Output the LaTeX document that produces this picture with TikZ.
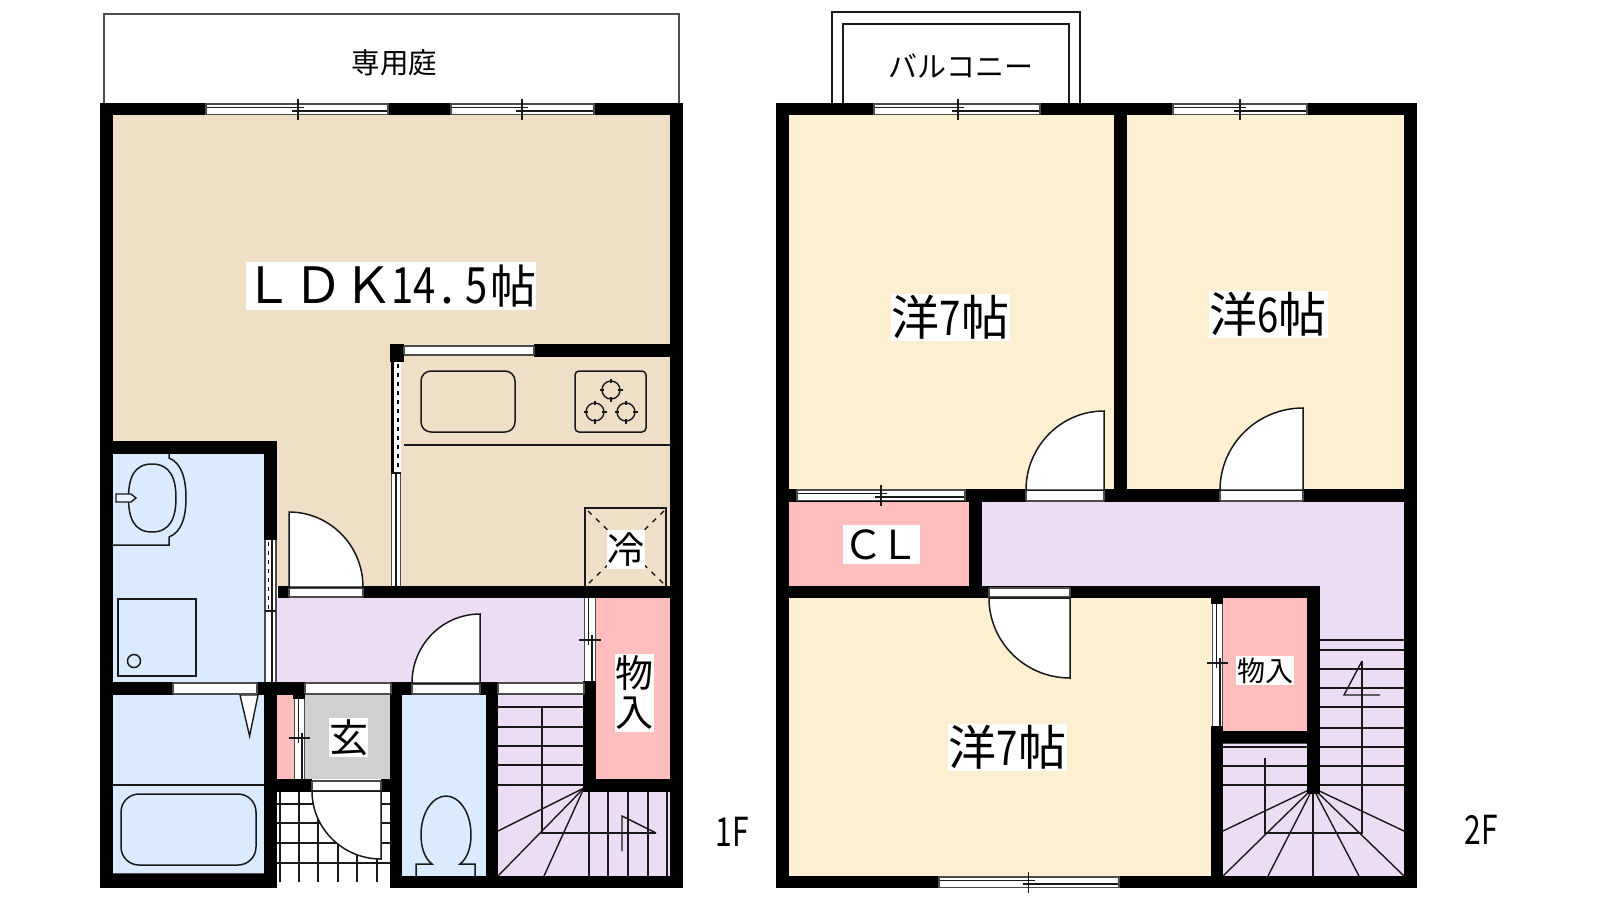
\documentclass[tikz,border=0pt]{standalone}
\usepackage{fontspec}
\usepackage{graphicx}
\usetikzlibrary{calc}
\setmainfont{Noto Sans CJK JP}
\definecolor{ldkc}{HTML}{EEDFC6}
\definecolor{bluec}{HTML}{DAEBFF}
\definecolor{pinkc}{HTML}{FFBEBE}
\definecolor{lavc}{HTML}{ECDDF5}
\definecolor{creamc}{HTML}{FDF0D1}
\definecolor{greyc}{HTML}{D0D0D0}
\tikzset{
  wallfill/.style={fill=black},
  thinl/.style={draw=black!90,line width=1.4pt},
  roomline/.style={draw=black!90,line width=1.5pt},
  frameg/.style={draw=black!70,line width=1.2pt},
  lab/.style={fill=white,inner sep=0pt,anchor=center,text=black},
}
\newcommand\fz[1]{\fontsize{#1}{#1}\selectfont}
\newcommand\nar[2][.8]{\scalebox{#1}[1]{#2}}
% wall rectangle x1 x2 y1 y2
\newcommand\wl[4]{\fill[wallfill] (#1,#3) rectangle (#2,#4);}
\newcommand\roomf[5]{\fill[#1] (#2,#4) rectangle (#3,#5);}
% horizontal sliding window x1 x2 y1 y2 tick
\newcommand\hwin[5]{%
  \fill[white] (#1,#3) rectangle (#2,#4);
  \draw[frameg] (#1,#3+1) -- (#2,#3+1);
  \draw[frameg] (#1,#4-.5) -- (#2,#4-.5);
  \draw[thinl] (#1,#3+4.2) -- (#5+6,#3+4.2);
  \draw[thinl] (#5-6,#3+7.8) -- (#2,#3+7.8);
  \draw[thinl] (#5,#3-4) -- (#5,#4+5);
  \draw[frameg] (#1,#3) -- (#1,#4) (#2,#3) -- (#2,#4);
}
% vertical sliding window x1 x2 y1 y2 tick
\newcommand\vwin[5]{%
  \fill[white] (#1,#3) rectangle (#2,#4);
  \draw[frameg] (#1+.5,#3) -- (#1+.5,#4);
  \draw[frameg] (#2-.5,#3) -- (#2-.5,#4);
  \draw[thinl] (#1+4.2,#3) -- (#1+4.2,#5+5);
  \draw[thinl] (#1+7.8,#5-5) -- (#1+7.8,#4);
  \draw[thinl] (#1-5,#5) -- (#2+5,#5);
}
% plain window
\newcommand\phwin[4]{\fill[white] (#1,#3) rectangle (#2,#4);
  \draw[frameg] (#1,#3+1) -- (#2,#3+1) (#1,#4-1) -- (#2,#4-1) (#1,#3+1) -- (#1,#4-1) (#2,#3+1) -- (#2,#4-1);}
% door sector: centre, a, b
\newcommand\sector[6]{%
  \draw[roomline,fill=white] (#1,#2) -- (#3,#4) .. controls ($(#3,#4)+0.5523*(#5,#6)-0.5523*(#1,#2)$) and ($(#5,#6)+0.5523*(#3,#4)-0.5523*(#1,#2)$) .. (#5,#6) -- cycle;}
\newcommand\burner[2]{%
  \draw[thinl] (#1,#2) circle (9);
  \draw[thinl] (#1-11.5,#2) -- (#1-7,#2) (#1+7,#2) -- (#1+11.5,#2) (#1,#2-11.5) -- (#1,#2-7) (#1,#2+7) -- (#1,#2+11.5);}
\begin{document}
\begin{tikzpicture}[x=1pt,y=-1pt]
\useasboundingbox (0,0) rectangle (1600,900);
\fill[white] (0,0) rectangle (1600,900);
%% ---------- 1F ----------
\draw[frameg] (104,103) -- (104,14) -- (679,14) -- (679,103);
\roomf{ldkc}{113}{670}{115}{586}
\roomf{bluec}{113}{264}{454}{682}
\roomf{bluec}{113}{264}{695}{874}
\roomf{lavc}{277}{584}{598}{682}
\roomf{pinkc}{596}{670}{598}{779}
\roomf{pinkc}{277}{294}{695}{779}
\roomf{greyc}{305}{390}{695}{779}
\roomf{bluec}{402}{486}{695}{876}
\roomf{lavc}{498}{583}{695}{876}
\roomf{lavc}{583}{670}{792}{876}
% washbasin
\draw[roomline] (169,454) -- (169,458) .. controls (182,463) and (186,480) .. (186,498) .. controls (186,516) and (182,532) .. (169,537) -- (169,545) -- (113,545);
\draw[roomline] (152,464) .. controls (170,464) and (176,478) .. (176,498) .. controls (176,518) and (170,532) .. (152,532) .. controls (134,532) and (128.5,518) .. (128.5,498) .. controls (128.5,478) and (134,464) .. (152,464);
\draw[thinl,fill=white!50!bluec] (116,494) -- (131,494) -- (136,498) -- (131,502) -- (116,502) -- cycle;
% shower
\draw[roomline] (118,599) rectangle (196,676);
\draw[roomline] (134,661) circle (6.5);
% bath
\draw[thinl] (113,785) -- (264,785);
\draw[frameg] (113,874) -- (264,874);
\draw[roomline,rounded corners=18pt] (121,794) rectangle (256,865);
\draw[thinl,fill=white] (240,695) -- (258,695) -- (249.6,736) -- cycle;
% toilet
\draw[roomline] (416,876) -- (416,864) -- (432,864) .. controls (424,858) and (421,846) .. (421,835) .. controls (421,812) and (433,796) .. (446,796) .. controls (459,796) and (471,812) .. (471,835) .. controls (471,846) and (468,858) .. (460,864) -- (475,864) -- (475,876);
% kitchen
\draw[roomline,rounded corners=10pt] (421,371) rectangle (515,432);
\draw[roomline,rounded corners=4pt] (575,371) rectangle (646,432);
\burner{611}{390}\burner{595}{412}\burner{626}{412}
\draw[roomline] (404,445) -- (670,445);
\draw[roomline] (585,586) -- (585,508) -- (666,508) -- (666,586);
\draw[thinl,dash pattern=on 5pt off 6pt] (588,511) -- (664,584);
\draw[thinl,dash pattern=on 5pt off 6pt] (664,511) -- (588,584);
% entrance tiles
\foreach \xx in {280,299,318,338,357,377}{\draw[thinl] (\xx,792) -- (\xx,882);}
\foreach \yy in {804,823,843,863}{\draw[thinl] (277,\yy) -- (390,\yy);}
% stairs 1F
\foreach \yy in {707,727,746,765,785}{\draw[thinl] (498,\yy) -- (584,\yy);}
\draw[thinl] (542,708) -- (542,833) -- (656,833);
\draw[thinl] (584,788) -- (498,831);
\draw[thinl] (584,788) -- (498,876);
\draw[thinl] (584,788) -- (544,876);
\foreach \xx in {589,608,628,648,667}{\draw[thinl] (\xx,792) -- (\xx,876);}
\draw[thinl] (622,851) -- (622,816) -- (656,833);
% walls 1F
\wl{100}{683}{103}{115}
\wl{100}{113}{103}{888}
\wl{670}{683}{103}{888}
\wl{100}{277}{874}{888}
\wl{390}{683}{876}{888}
\wl{100}{277}{441}{454}
\wl{264}{277}{441}{540}
\wl{264}{277}{682}{888}
\wl{390}{404}{344}{362}
\wl{534}{683}{344}{357}
\wl{278}{683}{586}{598}
\wl{100}{173}{682}{695}
\wl{257}{305}{682}{695}
\wl{391}{412}{682}{695}
\wl{480}{498}{682}{695}
\wl{293}{305}{682}{699}
\wl{277}{312}{779}{792}
\wl{381}{402}{779}{792}
\wl{390}{402}{682}{888}
\wl{486}{498}{682}{888}
\wl{583}{596}{681}{792}
\wl{583}{683}{779}{792}
% windows 1F
\hwin{206}{388}{103}{115}{298}
\hwin{451}{594}{103}{115}{522}
\phwin{404}{534}{345}{356}
\phwin{173}{257}{682}{695}
\phwin{305}{391}{682}{695}
\phwin{498}{584}{682}{695}
\vwin{584}{596}{598}{681}{640}
\vwin{294}{305}{699}{779}{738}
% kitchen partition
\wl{391}{401}{362}{473}
\fill[white] (394,362) rectangle (401,473);
\draw[black,line width=1.6pt,dash pattern=on 4pt off 5pt] (397.7,364) -- (397.7,473);
\fill[white] (391,473) rectangle (401,586);
\draw[frameg] (391.5,473) -- (391.5,586) (400.5,473) -- (400.5,586);
\draw[thinl] (396,473) -- (396,586);
\draw[thinl] (391,473) -- (401,473);
% bath partition
\fill[white] (264.5,540) rectangle (276,682);
\draw[black,line width=1.6pt,dash pattern=on 4pt off 5pt] (268.5,542) -- (268.5,611);
\draw[frameg] (265,540) -- (265,682);
\draw[thinl] (272,540) -- (272,682);
\draw[frameg] (276,540) -- (276,682);
\draw[thinl] (265,611) -- (276,611);
% doors 1F
\phwin{289}{363}{587}{598}
\sector{289}{587}{289}{512}{363}{587}
\phwin{412}{480}{683}{695}
\sector{480}{683}{480}{614}{412}{683}
\phwin{312}{381}{780}{792}
\sector{381}{791}{312}{791}{381}{859}
% labels 1F
\node[lab,minimum width=290pt,minimum height=48pt] (ldk) at (391,286) {\fz{50}\hbox to 290pt{\hspace*{-2.5pt}ＬＤＫ\hspace{-2pt}\nar{14}\hspace{5pt}.\hspace{11pt}\nar{5}\hfill\fz{46}帖}};
\node[anchor=center,inner sep=0pt] (garden) at (394.5,62.5) {\fz{28.5}専用庭};
\node[lab,minimum width=38pt,minimum height=39pt] (rei) at (626,549.5) {\fz{37}冷};
\node[lab,minimum width=39pt,minimum height=39pt] (gen) at (348.5,737.5) {\fz{39}玄};
\node[lab,minimum width=39pt,minimum height=78pt,align=center,font=\fz{38}] (mono1) at (634.5,693) {物\\[1pt]入};
\node[anchor=center,inner sep=0pt] (f1) at (732,832) {\fz{40}\nar[.75]{1F}};
%% ---------- 2F ----------
\draw[thinl] (832,103) -- (832,12) -- (1080,12) -- (1080,103);
\draw[thinl] (843,103) -- (843,24) -- (1069,24) -- (1069,103);
\roomf{creamc}{789}{1404}{115}{489}
\roomf{creamc}{789}{1211}{598}{876}
\roomf{pinkc}{789}{969}{502}{586}
\roomf{lavc}{982}{1404}{502}{586}
\roomf{lavc}{1320}{1404}{586}{876}
\roomf{pinkc}{1223}{1307}{598}{731}
\roomf{lavc}{1223}{1320}{743}{876}
% stairs 2F
\foreach \yy in {640,650,669,688,707,728,747,766,785}{\draw[thinl] (1320,\yy) -- (1404,\yy);}
\foreach \yy in {747,766,785}{\draw[thinl] (1223,\yy) -- (1307,\yy);}
\draw[frameg] (1223,743.5) -- (1307,743.5);
\draw[thinl] (1265,758) -- (1265,833) -- (1362,833) -- (1362,661);
\draw[thinl] (1362,661) -- (1344,695) -- (1380,695);
\foreach \xx/\yy in {1223/831,1223/876,1268/876,1313/876,1359/876,1404/876,1404/831}{\draw[thinl] (1313,788) -- (\xx,\yy);}
% walls 2F
\wl{776}{1417}{103}{115}
\wl{776}{789}{103}{888}
\wl{1404}{1417}{103}{888}
\wl{776}{1417}{876}{888}
\wl{1114}{1127}{115}{489}
\wl{776}{1417}{489}{502}
\wl{969}{982}{489}{598}
\wl{776}{1320}{586}{598}
\wl{1307}{1320}{586}{794}
\wl{1211}{1223}{598}{604}
\wl{1211}{1223}{726}{876}
\wl{1211}{1307}{731}{743}
% windows 2F
\hwin{874}{1040}{103}{115}{958}
\hwin{1173}{1307}{103}{115}{1240}
\hwin{797}{965}{489}{501}{881}
\hwin{939}{1119}{876}{888}{1028.5}
\vwin{1212}{1223}{604}{726}{663}
% doors 2F
\phwin{1026}{1104}{489}{502}
\sector{1104}{490}{1104}{411}{1026}{490}
\phwin{1220}{1303}{489}{502}
\sector{1303}{490}{1303}{408}{1220}{490}
\phwin{989}{1070}{587}{598}
\sector{1070}{598}{989}{598}{1070}{678}
% labels 2F
\node[anchor=center,inner sep=0pt] (balc) at (961,65.5) {\fz{29}バルコニー};
\node[lab,minimum width=119pt,minimum height=47pt] (r1) at (950.5,317.5) {\fz{48}洋\nar{7}帖};
\node[lab,minimum width=119pt,minimum height=47pt] (r2) at (1268,314.5) {\fz{48}洋\nar{6}帖};
\node[lab,minimum width=119pt,minimum height=47pt] (r3) at (1007.5,747.5) {\fz{48}洋\nar{7}帖};
\node[lab,minimum width=77pt,minimum height=39pt] (cl) at (881.5,544.5) {\makebox[77pt]{\fz{40}Ｃ\hspace{-4pt}Ｌ}};
\node[lab,minimum width=58pt,minimum height=29pt] (mono2) at (1265,670.5) {\fz{28}物入};
\node[anchor=center,inner sep=0pt] (f2) at (1481,830) {\fz{40}\nar[.75]{2F}};
\end{tikzpicture}
\end{document}
